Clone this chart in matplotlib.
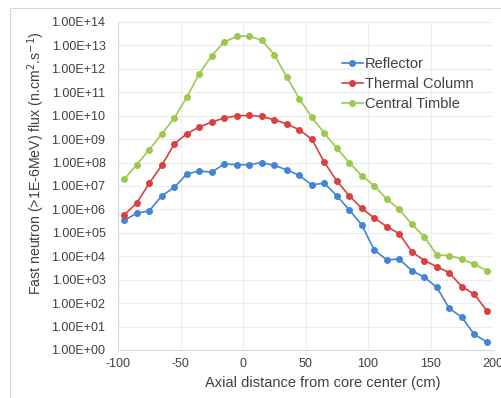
import numpy as np
import matplotlib
matplotlib.use('Agg')
import matplotlib.pyplot as plt
from matplotlib.ticker import FixedLocator, FuncFormatter

# posiciones axiales (cm)
x = [-95, -85, -75, -65, -55, -45, -35, -25, -15, -5, 5, 15, 25, 35, 45,
     55, 65, 75, 85, 95, 105, 115, 125, 135, 145, 155, 165, 175, 185, 195]

# log10 del flujo
reflector = [5.53, 5.84, 5.94, 6.58, 6.94, 7.51, 7.64, 7.59, 7.94, 7.91,
             7.91, 8.00, 7.88, 7.69, 7.45, 7.05, 7.12, 6.59, 5.98, 5.34,
             4.27, 3.85, 3.88, 3.39, 3.11, 2.68, 1.78, 1.40, 0.67, 0.35]
thermal = [5.77, 6.27, 7.12, 7.88, 8.79, 9.23, 9.52, 9.73, 9.90, 10.00,
           10.01, 9.97, 9.83, 9.65, 9.40, 9.00, 8.02, 7.22, 6.58, 6.05,
           5.63, 5.27, 4.96, 4.20, 3.82, 3.56, 3.30, 2.71, 2.38, 1.68]
timble = [7.29, 7.91, 8.55, 9.22, 9.90, 10.78, 11.79, 12.56, 13.15, 13.39,
          13.40, 13.22, 12.61, 11.65, 10.73, 9.94, 9.26, 8.62, 8.00, 7.44,
          7.01, 6.44, 6.01, 5.37, 4.84, 4.06, 4.03, 3.88, 3.66, 3.39]

plt.rcParams['font.family'] = ['Liberation Sans', 'DejaVu Sans']
plt.rcParams['axes.unicode_minus'] = False

fig = plt.figure(figsize=(5.01, 3.98), dpi=100)
# borde claro alrededor del gráfico
fig.patches.append(plt.Rectangle((10/501, -0.1), 1.2, 1.1 - 8/398,
                                 transform=fig.transFigure, fill=False,
                                 edgecolor='#d9d9d9', linewidth=0.8))
ax = fig.add_axes([118/501, 1 - 350/398, (493 - 118)/501, (350 - 22)/398])

series = [(reflector, 'Reflector', '#4285d6'),
          (thermal, 'Thermal Column', '#d94040'),
          (timble, 'Central Timble', '#9bc94e')]
for vals, lab, col in series:
    ax.plot(x, 10.0 ** np.array(vals), color=col, marker='o', markersize=4,
            linewidth=1.2, label=lab)

ax.set_yscale('log')
ax.set_ylim(1, 1e14)
ax.set_xlim(-100, 200)
ax.yaxis.set_major_locator(FixedLocator([10.0 ** k for k in range(15)]))
ax.yaxis.set_minor_locator(FixedLocator([]))
ax.yaxis.set_major_formatter(FuncFormatter(lambda v, p: '%.2E' % v))
ax.set_xticks(range(-100, 201, 50))

ax.grid(True, color='#ececec', linewidth=0.8)
ax.set_axisbelow(True)
for s in ['top', 'right']:
    ax.spines[s].set_visible(False)
for s in ['left', 'bottom']:
    ax.spines[s].set_color('#d9d9d9')
ax.tick_params(length=0, labelsize=9, colors='#404040', pad=9)
ax.tick_params(axis='x', labelsize=9, pad=6)

ax.set_xlabel('Axial distance from core center (cm)', fontsize=10.5,
              color='#404040')
ax.set_ylabel(r'Fast neutron (>1E-6MeV) flux (n.cm$^{2}$.s$^{-1}$)',
              fontsize=10.2, color='#404040')
ax.xaxis.set_label_coords(0.547, -0.08)
ax.yaxis.set_label_coords(-0.19, 0.57)

ax.legend(loc='upper left', bbox_to_anchor=(0.597, 0.893), frameon=False,
          fontsize=10.5, handlelength=1.45, handletextpad=0.15,
          labelspacing=0.4, borderpad=0, borderaxespad=0,
          labelcolor='#404040')

plt.savefig('out.png', dpi=100)
